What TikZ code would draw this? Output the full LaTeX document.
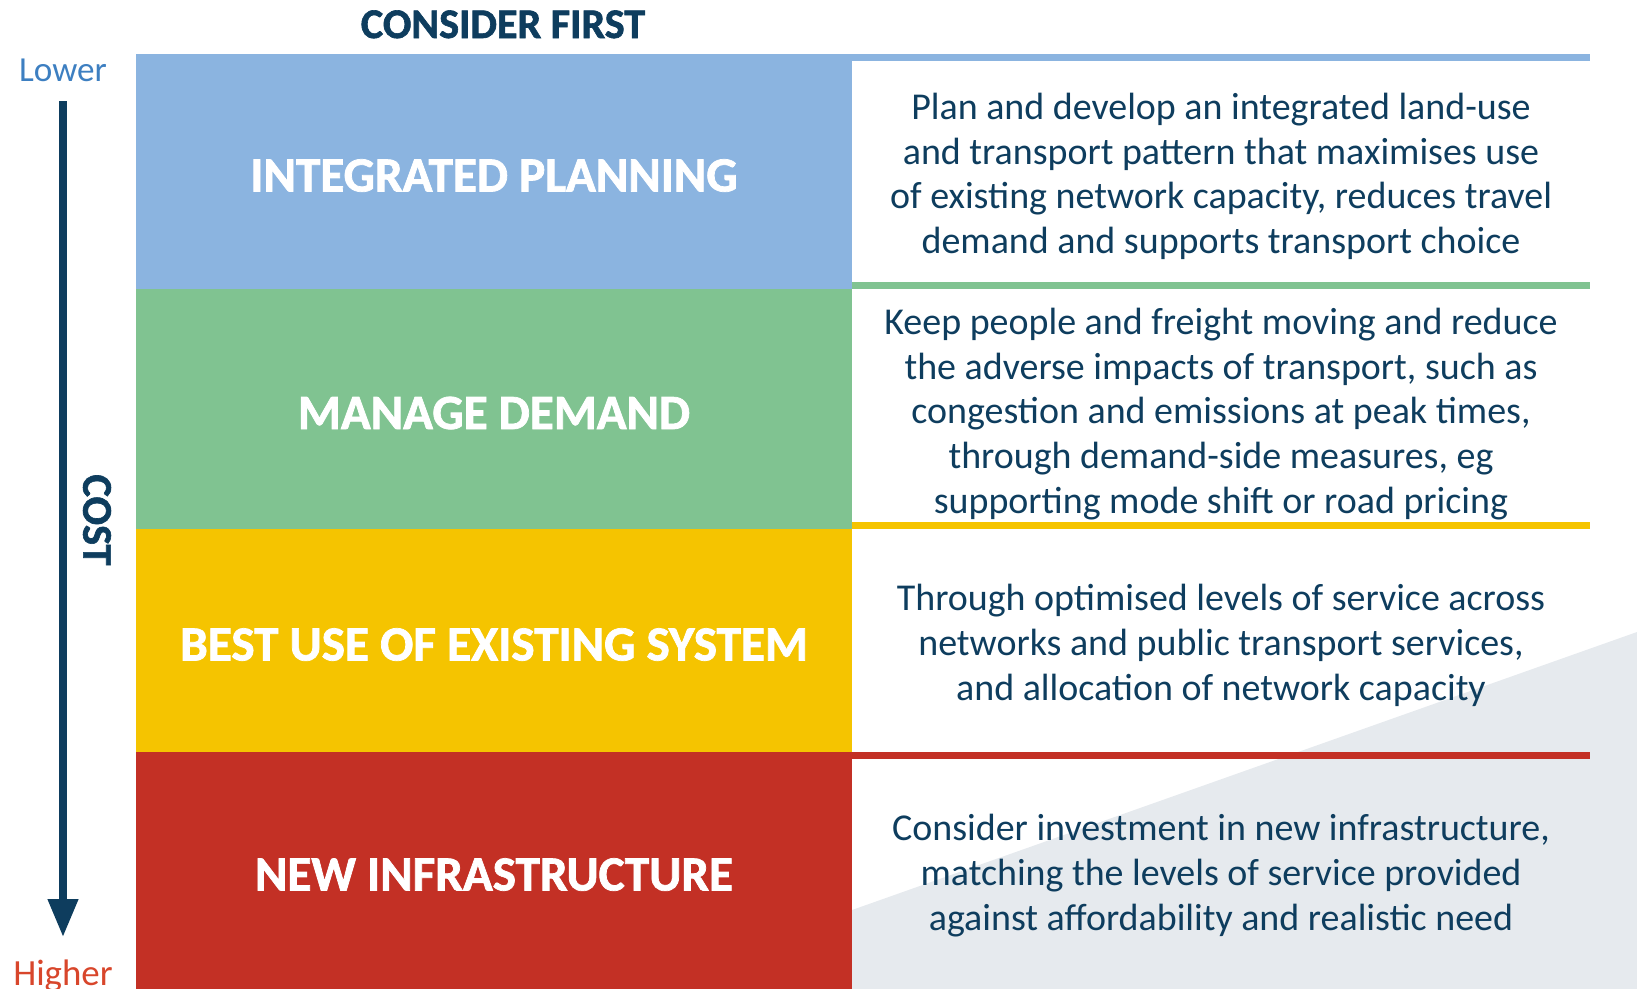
\documentclass[tikz,border=0pt]{standalone}
\usepackage{fontspec}
\setmainfont{Carlito}
\newfontfamily\heavyfont[BoldFeatures={FakeBold=1.5}]{Carlito}
\usetikzlibrary{arrows.meta, positioning}
\definecolor{navy}{HTML}{0E3D5E}
\definecolor{planblue}{HTML}{8BB4E0}
\definecolor{demandgreen}{HTML}{80C391}
\definecolor{bestyellow}{HTML}{F5C400}
\definecolor{infrared}{HTML}{C33025}
\definecolor{lowblue}{HTML}{3D7FC1}
\definecolor{highred}{HTML}{D8462B}
\definecolor{wedgegrey}{HTML}{E6EAEE}
\tikzstyle{level} = [rectangle, inner sep=0pt, outer sep=0pt, minimum width=71.6mm, text height=4mm, text depth=0pt, text=white, font=\heavyfont\bfseries\fontsize{14}{17}\selectfont]
\tikzstyle{detail} = [rectangle, inner sep=0pt, outer sep=0pt, minimum width=73.8mm, yshift=-0.5mm, text=navy, align=center, font=\fontsize{10.8}{12.7}\selectfont]
\tikzstyle{band} = [line width=0.7mm]
\tikzstyle{arrow} = [navy, line width=0.75mm, -{Triangle[width=2.9mm, length=3.8mm]}]

\begin{document}
\begin{tikzpicture}[x=0.1mm, y=-0.1mm, node distance=0pt]
    \useasboundingbox (0,0) rectangle (1637,989);
    \fill[wedgegrey] (852,910) -- (1637,632) -- (1637,989) -- (852,989) -- cycle; % grey wedge behind the text

    \node (plan) [level, fill=planblue, minimum height=23.5mm, anchor=north west] at (136,54) {INTEGRATED PLANNING};
    \node (demand) [level, fill=demandgreen, minimum height=24mm, below=of plan] {MANAGE DEMAND};
    \node (best) [level, fill=bestyellow, minimum height=22.3mm, below=of demand] {BEST USE OF EXISTING SYSTEM};
    \node (infra) [level, fill=infrared, minimum height=23.7mm, below=of best] {NEW INFRASTRUCTURE};

    \node (plantext) [detail, right=of plan] {Plan and develop an integrated land-use\\and transport pattern that maximises use\\of existing network capacity, reduces travel\\demand and supports transport choice};
    \node (demandtext) [detail, right=of demand] {Keep people and freight moving and reduce\\the adverse impacts of transport, such as\\congestion and emissions at peak times,\\through demand-side measures, eg\\supporting mode shift or road pricing};
    \node (besttext) [detail, right=of best] {Through optimised levels of service across\\networks and public transport services,\\and allocation of network capacity};
    \node (infratext) [detail, right=of infra] {Consider investment in new infrastructure,\\matching the levels of service provided\\against affordability and realistic need};

    \draw[band, planblue] ([yshift=-0.3mm]plan.north west) -- ++(145.4mm,0);
    \draw[band, demandgreen] ([yshift=0.35mm]plan.south east) -- ++(73.8mm,0);
    \draw[band, bestyellow] ([yshift=0.35mm]demand.south east) -- ++(73.8mm,0);
    \draw[band, infrared] ([yshift=-0.35mm]infra.north east) -- ++(73.8mm,0);

    \node (first) [anchor=base, text=navy, font=\heavyfont\bfseries\fontsize{12}{14}\selectfont] at (503,38) {CONSIDER FIRST};
    \node (lower) [anchor=base, text=lowblue, font=\fontsize{10}{12}\selectfont] at (63,81) {Lower};
    \node (higher) [anchor=base, text=highred, font=\fontsize{10.5}{12}\selectfont] at (63,985) {Higher};
    \node (cost) [rotate=-90, text=navy, font=\heavyfont\bfseries\fontsize{12}{14}\selectfont] at (97,520) {COST};

    \coordinate (costtop) at (63,101);
    \coordinate (costtip) at (63,937);
    \draw[arrow] (costtop) -- (costtip);
\end{tikzpicture}
\end{document}
